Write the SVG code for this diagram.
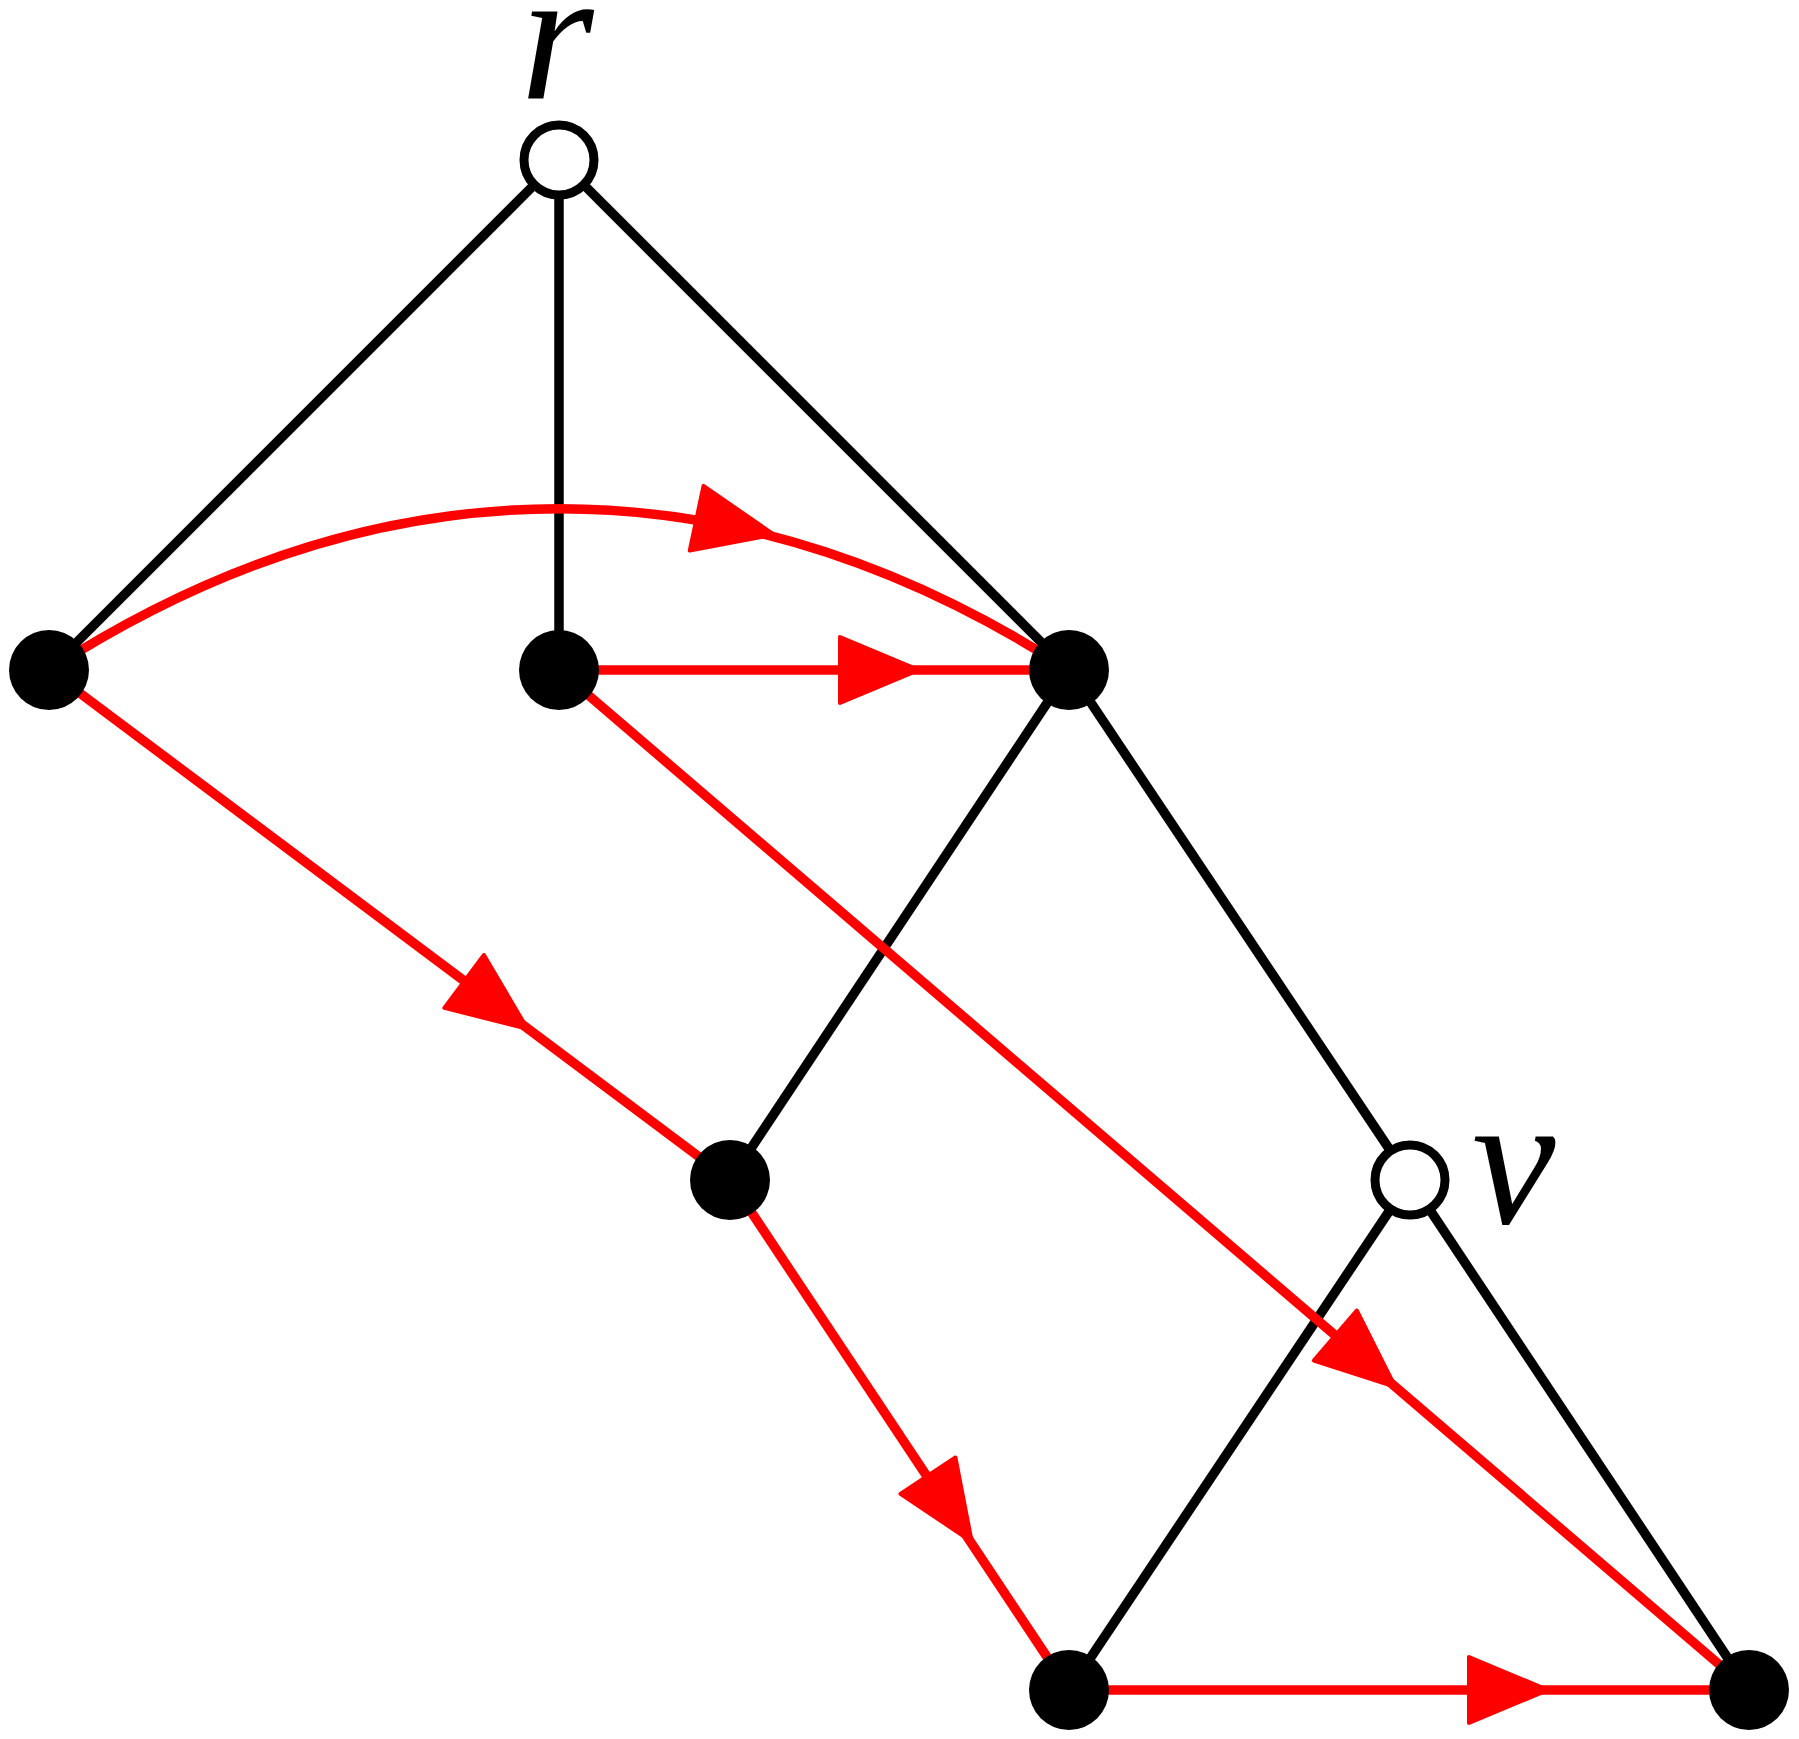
<svg xmlns="http://www.w3.org/2000/svg" xmlns:xlink="http://www.w3.org/1999/xlink" width="1799" height="1739" viewBox="0 0 1799 1739">
<style>
.blk{stroke:#000;stroke-width:9.5;fill:none;stroke-linecap:butt}
.red{stroke:#ff0000;stroke-width:9.5;fill:none}
.ah{fill:#ff0000;stroke:#ff0000;stroke-width:4;stroke-linejoin:round}
.full{fill:#000}
.open{fill:#fff;stroke:#000;stroke-width:9}
.lbl{font-family:"Liberation Serif","DejaVu Serif",serif;font-style:italic;font-size:188px;fill:#000}
</style>
<defs>
<polygon id="ah" class="ah" points="3,0 -76,-33 -76,33"/>
</defs>
<g id="connectors">
<line class="blk" x1="559" y1="160" x2="49" y2="670"/>
<line class="blk" x1="559" y1="160" x2="559" y2="670"/>
<line class="blk" x1="559" y1="160" x2="1069" y2="670"/>
<line class="blk" x1="1069" y1="670" x2="730" y2="1180"/>
<line class="blk" x1="1069" y1="670" x2="1410" y2="1180"/>
<line class="blk" x1="1410" y1="1180" x2="1069" y2="1690"/>
<line class="blk" x1="1410" y1="1180" x2="1749" y2="1690"/>
<path class="red" d="M49,670 C382,455 736,455 1069,670"/>
<line class="red" x1="559" y1="670" x2="1069" y2="670"/>
<line class="red" x1="49" y1="670" x2="730" y2="1180"/>
<line class="red" x1="730" y1="1180" x2="1069" y2="1690"/>
<line class="red" x1="559" y1="670" x2="1749" y2="1690"/>
<line class="red" x1="1069" y1="1690" x2="1749" y2="1690"/>
<use xlink:href="#ah" transform="translate(771,534) rotate(12)"/>
<use xlink:href="#ah" transform="translate(916,670)"/>
<use xlink:href="#ah" transform="translate(525,1027) rotate(36.8)"/>
<use xlink:href="#ah" transform="translate(970,1539) rotate(56.4)"/>
<use xlink:href="#ah" transform="translate(1393,1385) rotate(40.6)"/>
<use xlink:href="#ah" transform="translate(1545,1690)"/>
</g>
<g id="node-r">
<circle class="open" cx="559" cy="160" r="35"/>
<text class="lbl" x="557" y="98" text-anchor="middle">r</text>
</g>
<g id="node-a"><circle class="full" cx="49" cy="670" r="40"/></g>
<g id="node-b"><circle class="full" cx="559" cy="670" r="40"/></g>
<g id="node-c"><circle class="full" cx="1069" cy="670" r="40"/></g>
<g id="node-d"><circle class="full" cx="730" cy="1180" r="40"/></g>
<g id="node-v">
<circle class="open" cx="1410" cy="1180" r="35"/>
<text class="lbl" x="1472" y="1223">v</text>
</g>
<g id="node-e"><circle class="full" cx="1069" cy="1690" r="40"/></g>
<g id="node-f"><circle class="full" cx="1749" cy="1690" r="40"/></g>
</svg>
